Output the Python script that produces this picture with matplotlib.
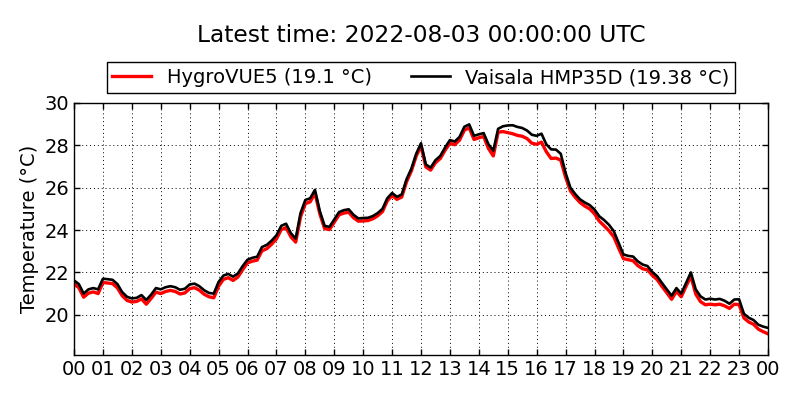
import numpy as np
import matplotlib
matplotlib.use("Agg")
import matplotlib.pyplot as plt

title = "Latest time: 2022-08-03 00:00:00 UTC"
label_a = "HygroVUE5 (19.1 °C)"
label_b = "Vaisala HMP35D (19.38 °C)"
ylabel = "Temperature (°C)"
xtick_labels = ["00", "01", "02", "03", "04", "05", "06", "07", "08", "09", "10", "11",
                "12", "13", "14", "15", "16", "17", "18", "19", "20", "21", "22", "23", "00"]
yticks = [20, 22, 24, 26, 28, 30]

# 10-minute samples, hours since 00:00
hours = np.arange(145) / 6.0

hmp35d = [
    21.62, 21.45, 21.00, 21.20, 21.26, 21.20, 21.70, 21.68, 21.65, 21.45, 21.07, 20.85,
    20.77, 20.80, 20.93, 20.70, 20.95, 21.26, 21.20, 21.30, 21.35, 21.30, 21.18, 21.23,
    21.43, 21.47, 21.35, 21.16, 21.03, 21.00, 21.55, 21.85, 21.93, 21.80, 21.95, 22.30,
    22.60, 22.69, 22.74, 23.20, 23.30, 23.50, 23.75, 24.20, 24.30, 23.85, 23.60, 24.80,
    25.42, 25.50, 25.90, 24.90, 24.20, 24.15, 24.50, 24.85, 24.94, 24.98, 24.72, 24.55,
    24.57, 24.58, 24.66, 24.80, 25.00, 25.50, 25.75, 25.57, 25.68, 26.40, 26.90, 27.60,
    28.10, 27.10, 26.95, 27.30, 27.50, 27.90, 28.25, 28.18, 28.40, 28.88, 28.99, 28.45,
    28.52, 28.58, 28.05, 27.75, 28.78, 28.90, 28.94, 28.95, 28.87, 28.82, 28.70, 28.50,
    28.45, 28.55, 28.05, 27.81, 27.80, 27.60, 26.70, 26.00, 25.70, 25.45, 25.30, 25.18,
    24.97, 24.65, 24.47, 24.25, 23.95, 23.40, 22.85, 22.78, 22.75, 22.52, 22.37, 22.30,
    22.02, 21.82, 21.50, 21.20, 20.90, 21.26, 21.00, 21.50, 22.00, 21.20, 20.87, 20.72,
    20.76, 20.72, 20.75, 20.66, 20.52, 20.72, 20.73, 20.05, 19.86, 19.75, 19.53, 19.44,
    19.38,
]

hygrovue5 = [
    21.45, 21.28, 20.83, 21.02, 21.08, 21.00, 21.52, 21.50, 21.47, 21.27, 20.90, 20.68,
    20.60, 20.63, 20.75, 20.50, 20.77, 21.07, 21.00, 21.10, 21.15, 21.10, 20.98, 21.03,
    21.23, 21.28, 21.16, 20.97, 20.85, 20.80, 21.35, 21.67, 21.75, 21.62, 21.78, 22.13,
    22.45, 22.53, 22.58, 23.02, 23.12, 23.33, 23.58, 24.02, 24.12, 23.68, 23.43, 24.62,
    25.25, 25.33, 25.75, 24.77, 24.07, 24.02, 24.37, 24.72, 24.80, 24.84, 24.58, 24.42,
    24.43, 24.45, 24.53, 24.67, 24.87, 25.38, 25.63, 25.45, 25.56, 26.28, 26.79, 27.49,
    27.98, 26.98, 26.83, 27.18, 27.38, 27.77, 28.10, 28.03, 28.25, 28.72, 28.83, 28.28,
    28.36, 28.42, 27.85, 27.50, 28.62, 28.65, 28.60, 28.55, 28.47, 28.43, 28.32, 28.10,
    28.05, 28.15, 27.70, 27.38, 27.40, 27.30, 26.50, 25.85, 25.55, 25.30, 25.13, 25.00,
    24.77, 24.42, 24.20, 23.97, 23.68, 23.15, 22.65, 22.60, 22.55, 22.32, 22.17, 22.12,
    21.86, 21.66, 21.34, 21.04, 20.73, 21.10, 20.85, 21.35, 21.82, 20.98, 20.62, 20.47,
    20.50, 20.47, 20.50, 20.42, 20.30, 20.50, 20.48, 19.85, 19.66, 19.55, 19.32, 19.20,
    19.10,
]

fig = plt.figure(figsize=(8, 4), dpi=100)
ax = fig.add_axes([0.0925, 0.1125, 0.8675, 0.63])

ax.plot(hours, hygrovue5, color="red", lw=2.4, label=label_a)
ax.plot(hours, hmp35d, color="black", lw=1.9, label=label_b)

ax.set_xlim(0, 24)
ax.set_ylim(18.1, 30)
ax.set_xticks(np.arange(25))
ax.set_xticklabels(xtick_labels)
ax.set_yticks(yticks)
ax.tick_params(direction="in", top=True, right=True, labelsize=14, length=4, width=1)
ax.grid(True, color="black", linestyle=(0, (1, 3)), linewidth=0.7)
for s in ax.spines.values():
    s.set_linewidth(1.0)
ax.set_ylabel(ylabel, fontsize=14)

leg = ax.legend(loc="lower center", bbox_to_anchor=(0.5, 1.04), ncol=2, fontsize=14,
                frameon=True, fancybox=False, edgecolor="black", framealpha=1,
                borderpad=0.3, handlelength=2.0, columnspacing=2.0, handletextpad=0.8,
                borderaxespad=0.0)
leg.get_frame().set_linewidth(1.0)

fig.text(0.527, 1 - 35 / 400, title, ha="center", va="center", fontsize=16.8)

fig.savefig("out.png", dpi=100)
